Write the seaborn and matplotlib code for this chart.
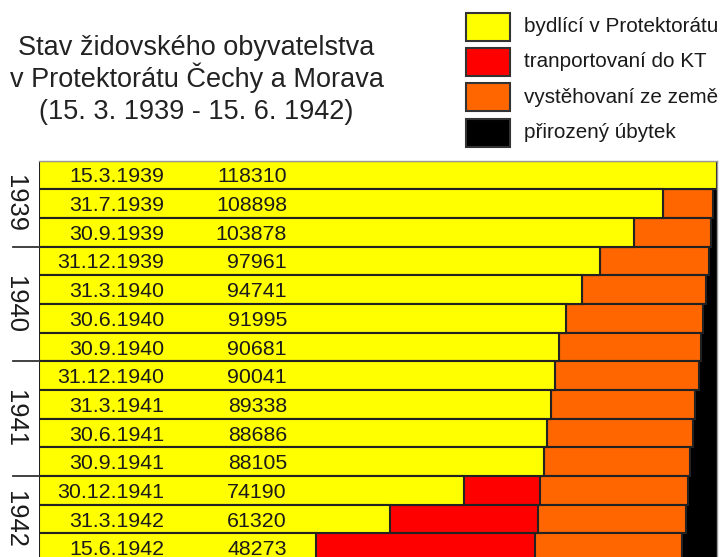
import matplotlib
matplotlib.use("Agg")
import matplotlib.pyplot as plt
import matplotlib.transforms as mtransforms
from matplotlib.patches import Rectangle
import numpy as np
import pandas as pd
import seaborn as sns

# ---------------- data ----------------
dates = ["15.3.1939", "31.7.1939", "30.9.1939", "31.12.1939", "31.3.1940",
         "30.6.1940", "30.9.1940", "31.12.1940", "31.3.1941", "30.6.1941",
         "30.9.1941", "30.12.1941", "31.3.1942", "15.6.1942"]
living = [118310, 108898, 103878, 97961, 94741, 91995, 90681, 90041,
          89338, 88686, 88105, 74190, 61320, 48273]
transported = [0, 0, 0, 0, 0, 0, 0, 0, 0, 0, 0, 13280, 25700, 38330]
emigrated = [0, 8760, 13380, 18900, 21640, 23920, 24780, 25070, 25180,
             25480, 25540, 25770, 25880, 25610]
natural = [0, 652, 1052, 1449, 1929, 2395, 2849, 3199, 3792, 4144,
           4665, 5070, 5410, 6097]
years = ["1939", "1940", "1941", "1942"]
year_rows = [(0, 2), (3, 6), (7, 10), (11, 13)]

series_labels = ["bydlící v Protektorátu", "tranportovaní do KT",
                 "vystěhovaní ze země", "přirozený úbytek"]
colors = ["#ffff00", "#ff0000", "#ff6600", "#000000"]

title_lines = ["Stav židovského obyvatelstva",
               "v Protektorátu Čechy a Morava",
               "(15. 3. 1939 - 15. 6. 1942)"]

# ---------------- figure ----------------
plt.rcParams["font.family"] = ["Liberation Sans", "DejaVu Sans"]
W, H = 722, 557
fig = plt.figure(figsize=(W / 100, H / 100), dpi=100)


def fx(px):
    return px / W


def fy(py):
    return 1 - py / H


row_h = 28.67
top_px = 160.7
n = len(dates)
ax = fig.add_axes([fx(39), fy(top_px + n * row_h), fx(717) - fx(39), (n * row_h) / H])

df = pd.DataFrame({"date": dates, "living": living, "transported": transported,
                   "emigrated": emigrated, "natural": natural})
df["c_yellow"] = df["living"]
df["c_red"] = df["c_yellow"] + df["transported"]
df["c_orange"] = df["c_red"] + df["emigrated"]
df["c_black"] = df["c_orange"] + df["natural"]

edge = "#222222"
sns.barplot(data=df, x="c_black", y="date", orient="h", color=colors[3],
            saturation=1, width=1.0, errorbar=None, edgecolor=colors[3],
            linewidth=1.5, ax=ax)
sns.barplot(data=df, x="c_orange", y="date", orient="h", color=colors[2],
            saturation=1, width=1.0, errorbar=None, edgecolor=edge,
            linewidth=1.5, ax=ax)
sns.barplot(data=df, x="c_red", y="date", orient="h", color=colors[1],
            saturation=1, width=1.0, errorbar=None, edgecolor=edge,
            linewidth=1.5, ax=ax)
sns.barplot(data=df, x="c_yellow", y="date", orient="h", color=colors[0],
            saturation=1, width=1.0, errorbar=None, edgecolor=edge,
            linewidth=1.5, ax=ax)

ax.set_xlim(0, living[0])
ax.set_ylim(n - 0.5, -0.5)
ax.set_xticks([])
ax.set_yticks([])
ax.set_xlabel("")
ax.set_ylabel("")
for s in ["left", "bottom"]:
    ax.spines[s].set_visible(False)
for s in ["top", "right"]:
    ax.spines[s].set_color("#999999")
    ax.spines[s].set_linewidth(1.0)

txt_color = "#1a1a1a"
trans = mtransforms.blended_transform_factory(ax.transAxes, ax.transData)
date_x = (164.5 - 39) / 678
num_x = (287 - 39) / 678
for i, (d, v) in enumerate(zip(dates, living)):
    ax.text(date_x, i + 0.26, d, transform=trans, ha="right", va="baseline",
            fontsize=15.4, color=txt_color, zorder=10)
    ax.text(num_x, i + 0.26, f"{v}", transform=trans, ha="right", va="baseline",
            fontsize=15.4, color=txt_color, zorder=10)

# year labels and separators
year_x = (14.5 - 39) / 678
for yr, (a, b) in zip(years, year_rows):
    ax.text(year_x, (a + b) / 2, yr, transform=trans, rotation=270,
            ha="center", va="center", fontsize=18.4, color=txt_color, clip_on=False)
for (a, b) in year_rows[1:]:
    ax.plot([(13 - 39) / 678, 0], [a - 0.5, a - 0.5], transform=trans,
            color="#333333", lw=1.3, clip_on=False)

# title
for k, line in enumerate(title_lines):
    fig.text(fx(196.5), fy(55 + 32 * k), line, ha="center", va="baseline",
             fontsize=19.5, color="#222222")

# legend (drawn as swatches + labels)
box_tops = [12.7, 47.9, 83.2, 118.5]
for c, lab, t in zip(colors, series_labels, box_tops):
    fig.add_artist(Rectangle((fx(466), fy(t + 28)), fx(510) - fx(466), 28 / H,
                             transform=fig.transFigure, facecolor=c,
                             edgecolor="#333333", linewidth=1.5))
    fig.text(fx(524), fy(t + 14), lab, ha="left", va="center",
             fontsize=14.9, color=txt_color)

fig.savefig("out.png", dpi=100)
